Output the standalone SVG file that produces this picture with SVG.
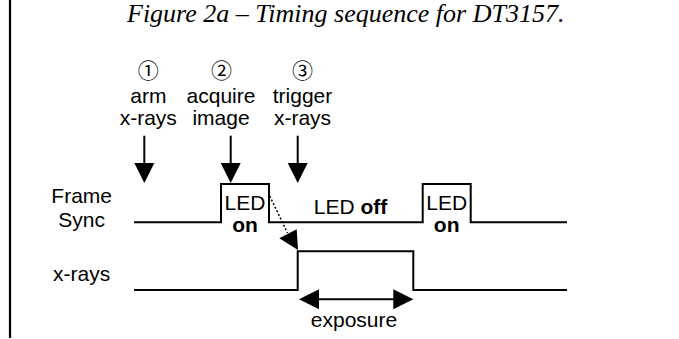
<svg xmlns="http://www.w3.org/2000/svg" width="679" height="339" viewBox="0 0 679 339">
<style>
.t{font-family:"Liberation Sans",Arial,sans-serif;font-size:21px;fill:#000;text-anchor:middle}
.b{font-weight:bold}
.c{font-family:"Noto Sans CJK JP","DejaVu Sans",sans-serif;font-size:21px;fill:#000;text-anchor:middle}
.title{font-family:"Liberation Serif","Times New Roman",serif;font-style:italic;font-size:26px;fill:#000}
.ln{fill:none;stroke:#000;stroke-width:2}
.ah{fill:#000;stroke:none}
</style>
<rect x="0" y="0" width="679" height="339" fill="#fff"/>
<line x1="10" y1="0" x2="10" y2="338" stroke="#000" stroke-width="2.2"/>
<text class="title" x="127" y="22">Figure 2a – Timing sequence for DT3157.</text>

<g id="step1">
<text class="c" x="148.3" y="78">①</text>
<text class="t" x="148.3" y="103">arm</text>
<text class="t" x="148.3" y="125">x-rays</text>
</g>
<g id="step2">
<text class="c" x="221.5" y="78">②</text>
<text class="t" x="221" y="103">acquire</text>
<text class="t" x="221" y="125">image</text>
</g>
<g id="step3">
<text class="c" x="302.5" y="78">③</text>
<text class="t" x="302.5" y="103">trigger</text>
<text class="t" x="302.5" y="125">x-rays</text>
</g>
<g id="frame-sync-label">
<text class="t" x="81.7" y="203">Frame</text>
<text class="t" x="81.7" y="227">Sync</text>
</g>
<g id="xrays-label">
<text class="t" x="81.7" y="281">x-rays</text>
</g>
<g id="frame-sync">
<polyline class="ln" points="134,222.3 221,222.3 221,184 269,184 269,222.3 422.7,222.3 422.7,184 470.7,184 470.7,222.3 567,222.3"/>
<text class="t" x="245" y="210">LED</text>
<text class="t b" x="245" y="231.7">on</text>
<text class="t" x="350.5" y="214">LED <tspan class="b">off</tspan></text>
<text class="t" x="446.7" y="210">LED</text>
<text class="t b" x="446.7" y="231.7">on</text>
</g>
<g id="xrays">
<polyline class="ln" points="134,290 297.7,290 297.7,251.3 413.3,251.3 413.3,290 567,290"/>
</g>
<g id="exposure">
<text class="t" x="354" y="326.7">exposure</text>
</g>
<g id="connectors">
<line class="ln" x1="144.3" y1="135.7" x2="144.3" y2="165"/>
<polygon class="ah" points="134.3,163 154.3,163 144.3,183"/>
<line class="ln" x1="230.7" y1="135.7" x2="230.7" y2="165"/>
<polygon class="ah" points="220.7,163 240.7,163 230.7,183"/>
<line class="ln" x1="297.7" y1="135.7" x2="297.7" y2="165"/>
<polygon class="ah" points="287.7,163 307.7,163 297.7,183"/>
<line x1="269.7" y1="196" x2="287.5" y2="233" stroke="#000" stroke-width="1.5" stroke-dasharray="2,2"/>
<polygon class="ah" points="279.3,238.3 296.7,229.3 298,250"/>
<line class="ln" x1="315" y1="299.3" x2="397" y2="299.3"/>
<polygon class="ah" points="299,299.3 319,289.3 319,309.3"/>
<polygon class="ah" points="413.3,299.3 393.3,289.3 393.3,309.3"/>
</g>
</svg>
